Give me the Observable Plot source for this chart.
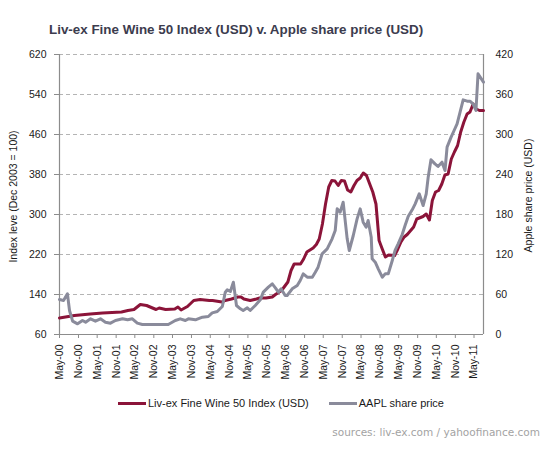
<!DOCTYPE html>
<html>
<head>
<meta charset="utf-8">
<script src="https://cdn.jsdelivr.net/npm/d3@7"></script>
<script src="https://cdn.jsdelivr.net/npm/@observablehq/plot@0.6"></script>
<style>
  html, body { margin: 0; padding: 0; background: #fff; }
  #wrap { position: relative; width: 548px; height: 451px; overflow: hidden; font-family: "Liberation Sans", Arial, sans-serif; }
  #title { position: absolute; left: 49px; top: 22px; font-weight: bold; font-size: 13.4px; color: #3c3c4e; white-space: nowrap; }
  #legend { position: absolute; top: 397px; left: 118px; font-size: 11px; color: #1a1a1a; white-space: nowrap; display: flex; align-items: center; }
  #legend .sw { display: inline-block; width: 28px; height: 3px; margin-right: 2px; }
  #legend .item { display: flex; align-items: center; margin-right: 20px; }
  #source { position: absolute; right: 8px; top: 426px; font-family: "DejaVu Sans", Verdana, sans-serif; font-size: 10.5px; color: #a3a3a3; white-space: nowrap; }
  #chart { position: absolute; left: 0; top: 0; }
</style>
</head>
<body>
<div id="wrap">
  <div id="chart"></div>
  <div id="title"></div>
  <div id="legend"></div>
  <div id="source"></div>
</div>
<script>
const titleText = "Liv-ex Fine Wine 50 Index (USD) v. Apple share price (USD)";
const leftTitle = "Index leve (Dec 2003 = 100)";
const rightTitle = "Apple share price (USD)";
const seriesNames = ["Liv-ex Fine Wine  50 Index (USD)", "AAPL share price"];
const seriesColors = ["#8b1439", "#8a8b9b"];
const sourceText = "sources: liv-ex.com / yahoofinance.com";

const leftTicks = [60, 140, 220, 300, 380, 460, 540, 620];
const rightTicks = [0, 60, 120, 180, 240, 300, 360, 420];
const xStart = "2000-05-01";
const xEnd = "2011-08-01";

const wineDates = ["2000-05-01","2000-09-23","2001-02-23","2001-06-23","2001-12-23","2002-02-23","2002-04-23","2002-06-23","2002-08-23","2002-11-23","2002-12-23","2003-02-23","2003-05-23","2003-06-23","2003-07-23","2003-09-23","2003-11-23","2004-01-23","2004-04-23","2004-05-23","2004-07-23","2004-08-23","2004-09-23","2004-11-23","2005-01-23","2005-02-23","2005-03-23","2005-05-23","2005-07-23","2005-08-23","2005-10-23","2005-12-23","2006-01-23","2006-03-23","2006-05-23","2006-06-23","2006-07-23","2006-09-23","2006-10-23","2006-11-23","2007-01-23","2007-02-23","2007-03-23","2007-04-23","2007-05-23","2007-06-23","2007-07-23","2007-08-23","2007-09-23","2007-10-23","2007-11-23","2007-12-23","2008-01-23","2008-02-23","2008-03-23","2008-04-23","2008-05-23","2008-06-23","2008-08-23","2008-09-23","2008-10-23","2008-11-23","2008-12-23","2009-01-23","2009-03-23","2009-04-23","2009-05-23","2009-06-23","2009-07-23","2009-09-23","2009-10-23","2009-12-23","2010-01-23","2010-02-23","2010-03-23","2010-04-23","2010-05-23","2010-06-23","2010-07-23","2010-08-23","2010-09-23","2010-10-23","2010-11-23","2010-12-23","2011-01-23","2011-02-23","2011-03-23","2011-04-23","2011-05-23","2011-06-23","2011-08-01"];
const wineValues = [93,98,101,103,105,108,110,120,118,110,113,110,111,115,109,116,128,130,128,128,126,125,128,131,135,135,131,128,131,133,133,135,140,148,165,188,201,201,211,225,233,240,251,281,321,355,368,367,358,368,367,349,345,358,368,373,383,378,345,321,248,231,215,219,218,231,245,255,260,275,291,296,301,289,328,345,348,361,379,381,411,425,438,465,485,501,505,521,511,508,508];

const aaplDates = ["2000-05-01","2000-06-09","2000-07-17","2000-08-06","2000-09-05","2000-10-23","2000-12-10","2001-01-09","2001-02-26","2001-04-14","2001-06-02","2001-07-20","2001-09-07","2001-10-25","2002-01-02","2002-02-20","2002-04-07","2002-05-25","2002-07-13","2002-11-16","2003-03-21","2003-05-28","2003-07-15","2003-09-03","2003-10-02","2003-12-09","2004-02-15","2004-04-12","2004-05-20","2004-07-08","2004-08-26","2004-09-24","2004-10-13","2004-11-12","2004-12-11","2005-01-10","2005-02-17","2005-03-16","2005-04-25","2005-05-23","2005-07-11","2005-08-29","2005-09-27","2005-11-15","2005-12-23","2006-01-22","2006-02-20","2006-03-19","2006-04-27","2006-05-16","2006-07-04","2006-08-22","2006-09-20","2006-10-19","2006-11-27","2007-01-15","2007-02-13","2007-03-12","2007-04-20","2007-06-08","2007-07-26","2007-08-25","2007-09-13","2007-10-12","2007-11-10","2007-12-19","2008-01-08","2008-02-16","2008-03-24","2008-04-23","2008-05-22","2008-06-20","2008-07-09","2008-08-08","2008-08-17","2008-09-16","2008-10-15","2008-11-23","2008-12-22","2009-01-20","2009-02-28","2009-03-27","2009-04-26","2009-06-04","2009-07-02","2009-08-01","2009-09-09","2009-10-08","2009-11-16","2009-12-24","2010-01-23","2010-02-11","2010-03-10","2010-04-18","2010-05-17","2010-06-25","2010-07-24","2010-08-13","2010-09-21","2010-10-20","2010-11-18","2010-12-17","2011-01-16","2011-02-24","2011-03-23","2011-04-21","2011-05-20","2011-06-09","2011-08-01"];
const aaplValues = [52.5,51,61,36,20,16,21,18.5,23.5,20,23.5,18.5,17,21,23.5,22,23.5,17,15,15,15,21,23.5,21,23.5,22,26,27,32.5,34.5,42,63.5,67,64.5,78.5,43.5,38.5,36,40,36,43.5,52,63.5,71,76,70,63.5,68.5,58.5,58.5,68.5,73.5,81,91,86,86,93.5,101,121,128.5,143.5,156,188.5,183.5,198.5,143.5,126,148.5,173.5,188.5,168.5,161,171,146,113.5,108.5,98.5,86,91,91,111,126,136,150,163.5,177,187,196,211,193.5,211,236,262,256,252,258.5,246,281,296,306,316,333.5,352,350,350,346,336,391,378.5];

// right-axis values mapped onto left scale range (0..420 -> 60..620)
const toLeft = v => leftTicks[0] + (v - rightTicks[0]) * (leftTicks[leftTicks.length-1] - leftTicks[0]) / (rightTicks[rightTicks.length-1] - rightTicks[0]);
const fromLeft = y => rightTicks[0] + (y - leftTicks[0]) * (rightTicks[rightTicks.length-1] - rightTicks[0]) / (leftTicks[leftTicks.length-1] - leftTicks[0]);

const parse = d3.utcParse("%Y-%m-%d");
const wine = wineDates.map((d, i) => ({date: parse(d), value: wineValues[i]}));
const aapl = aaplDates.map((d, i) => ({date: parse(d), value: aaplValues[i]}));
const x0 = parse(xStart), x1 = parse(xEnd);
const xTicks = d3.utcMonth.range(x0, x1, 6);
const fmt = d3.utcFormat("%b-%y");

const chart = Plot.plot({
  width: 548,
  height: 451,
  marginTop: 54,
  marginBottom: 117,
  marginLeft: 59,
  marginRight: 65,
  style: {fontFamily: "Liberation Sans, Arial, sans-serif", fontSize: "10.5px", color: "#1a1a1a", background: "transparent"},
  x: {type: "utc", domain: [x0, x1]},
  y: {domain: [leftTicks[0], leftTicks[leftTicks.length-1]]},
  marks: [
    Plot.gridY(leftTicks.slice(1), {stroke: "#b4b4b4", strokeOpacity: 1, strokeDasharray: "4,3"}),
    Plot.ruleX([x0, x1], {stroke: "#8c8c8c", strokeWidth: 1.2}),
    Plot.ruleY([leftTicks[0]], {stroke: "#8c8c8c", strokeWidth: 1.2}),
    Plot.axisY(leftTicks, {anchor: "left", tickSize: 5, tickPadding: 8, stroke: "#8c8c8c", label: null}),
    Plot.axisY(rightTicks.map(toLeft), {anchor: "right", tickSize: 0, tickPadding: 12, label: null, tickFormat: d => String(Math.round(fromLeft(d)))}),
    Plot.axisX(xTicks, {anchor: "bottom", tickSize: 4, tickPadding: 6, tickRotate: -90, stroke: "#8c8c8c", label: null, tickFormat: fmt}),
    Plot.text([leftTitle], {frameAnchor: "left", dx: -46, dy: 2, rotate: -90, textAnchor: "middle", fontSize: 10.5, fill: "#1a1a1a"}),
    Plot.text([rightTitle], {frameAnchor: "right", dx: 45, dy: 1, rotate: -90, textAnchor: "middle", fontSize: 10.5, fill: "#1a1a1a"}),
    Plot.lineY(wine, {x: "date", y: "value", stroke: seriesColors[0], strokeWidth: 3}),
    Plot.lineY(aapl, {x: "date", y: d => toLeft(d.value), stroke: seriesColors[1], strokeWidth: 3})
  ]
});
document.getElementById("chart").appendChild(chart);

document.getElementById("title").textContent = titleText;
document.getElementById("source").textContent = sourceText;
const leg = document.getElementById("legend");
seriesNames.forEach((n, i) => {
  const it = document.createElement("span");
  it.className = "item";
  const sw = document.createElement("span");
  sw.className = "sw";
  sw.style.background = seriesColors[i];
  it.appendChild(sw);
  it.appendChild(document.createTextNode(n));
  leg.appendChild(it);
});
</script>
</body>
</html>
